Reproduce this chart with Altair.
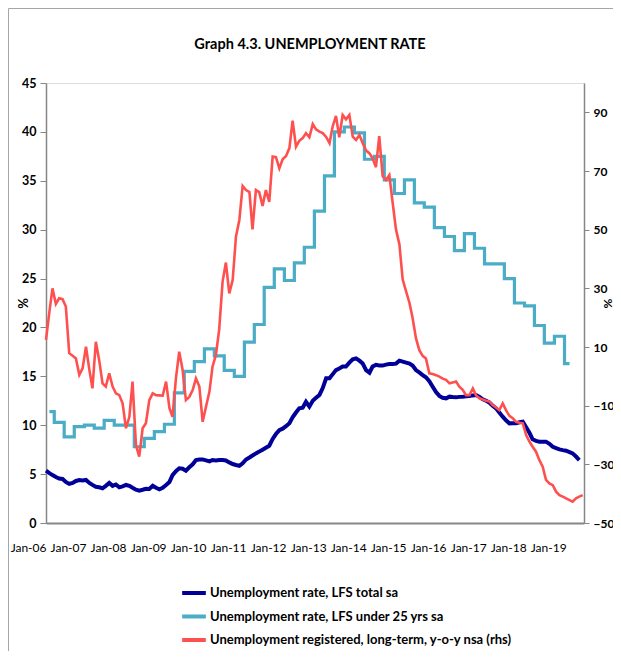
import altair as alt
import pandas as pd

FONT = "Lato"

series_names = [
    "Unemployment rate, LFS total sa",
    "Unemployment rate, LFS under 25 yrs sa",
    "Unemployment registered, long-term, y-o-y nsa (rhs)",
]
colors = ["#000099", "#4BACC6", "#FF5050"]
chart_title = "Graph 4.3. UNEMPLOYMENT RATE"

tick_years = list(range(2006, 2020))
left_ticks = [0, 5, 10, 15, 20, 25, 30, 35, 40, 45]
right_ticks = [-50, -30, -10, 10, 30, 50, 70, 90]

# monthly, Jan-06 .. May-19
lfs_total = [
    5.35, 5.1, 4.9, 4.7, 4.55, 4.5, 4.2, 4.0, 4.1, 4.3, 4.4, 4.35,
    4.4, 4.1, 3.9, 3.7, 3.65, 3.55, 3.8, 4.1, 3.8, 3.94, 3.65, 3.75,
    3.89, 3.8, 3.6, 3.4, 3.31, 3.4, 3.5, 3.48, 3.8, 3.6, 3.45, 3.6,
    3.89, 4.2, 4.9, 5.3, 5.59, 5.55, 5.35, 5.7, 6.0, 6.44, 6.5, 6.5,
    6.4, 6.3, 6.44, 6.4, 6.44, 6.44, 6.4, 6.2, 6.03, 5.93, 5.85, 6.1,
    6.5, 6.7, 6.9, 7.12, 7.3, 7.5, 7.7, 7.9, 8.6, 9.1, 9.5, 9.65,
    9.9, 10.2, 10.8, 11.3, 11.73, 11.8, 12.4, 11.9, 12.5, 12.8, 13.1, 13.8,
    14.8, 14.8, 15.2, 15.64, 15.8, 16.0, 16.0, 16.4, 16.74, 16.84, 16.6, 16.3,
    15.64, 15.37, 16.0, 16.17, 16.1, 16.1, 16.2, 16.26, 16.26, 16.3, 16.6, 16.5,
    16.4, 16.3, 16.1, 15.64, 15.4, 15.13, 14.9, 14.5, 13.94, 13.4, 13.0, 12.8,
    12.75, 12.92, 12.88, 12.85, 12.9, 12.92, 12.95, 12.99, 13.05, 13.09, 12.9, 12.65,
    12.5, 12.3, 12.0, 11.73, 11.3, 10.87, 10.5, 10.19, 10.2, 10.19, 10.3, 10.36,
    9.8, 9.2, 8.56, 8.4, 8.32, 8.32, 8.32, 8.1, 7.8, 7.65, 7.53, 7.45,
    7.39, 7.25, 7.12, 6.8, 6.44,
]

# quarterly, Q1-06 .. Q1-19
lfs_youth_q = [
    11.4, 10.3, 8.8, 9.85,
    10.0, 9.7, 10.5, 10.0,
    10.0, 7.8, 8.66, 9.34,
    10.1, 13.3, 15.5, 16.5,
    17.8, 17.1, 15.6, 15.0,
    18.5, 20.3, 24.1, 26.0,
    24.8, 26.6, 28.2, 31.9,
    35.5, 40.0, 40.5, 39.9,
    37.2, 37.5, 35.1, 33.7,
    35.1, 32.75, 32.3, 30.2,
    29.3, 27.85, 29.6, 28.1,
    26.5, 26.5, 25.0, 22.5,
    22.2, 20.2, 18.4, 19.1,
    16.3,
]

# monthly, Jan-06 .. Jun-19 (right axis)
registered_lt = [
    12.4, 22, 30, 24.7, 26.6, 26.3, 23.8, 7.9, 7.0, 6.1, 0.5, 2.7,
    10.1, 2.2, -4.1, 11.8, 5.6, -2.4, -3.5, 1, -3.5, -5.8, -6.4, -9.2,
    -17.7, -13.8, -1.8, -23.4, -27.4, -17.7, -16, -8.1, -5.8, -6.4, -6.5, -6.6,
    -1.8, -10.9, -13.8, -0.7, 8.4, 2.2, -8.1, -7, -4.7, -0.7, -3.5, -15.5,
    -10.3, -5.2, 3.3, 7.3, 16, 32.3, 38.8, 28.3, 32.8, 47.6, 53.3, 64.9,
    63.5, 62.8, 50.1, 63.5, 62.8, 58.1, 63.5, 59.5, 74.9, 74.7, 70.9, 74,
    75.1, 77.8, 87.2, 78.3, 80.3, 81.2, 82.9, 81.5, 86, 84.2, 83.4, 82.9,
    81.6, 79.5, 85.1, 88.8, 81.5, 89.1, 87.6, 89.1, 81.7, 80.6, 82.3, 79.5,
    77, 76, 74.3, 71.3, 81.9, 68.3, 66.9, 68.6, 59, 50, 45, 33,
    29, 25, 20, 13, 9, 7, 6.1, 1, 0.8, 0.4, -0.1, -0.8,
    -1.2, -2.4, -2.1, -1.8, -3.5, -4.6, -6.4, -6.4, -4.1, -6.5, -7.5, -7.9,
    -8.3, -8.6, -9.8, -10.6, -11.5, -9.2, -11.5, -13.5, -14.3, -15.5, -15.8, -16,
    -20, -22.3, -24, -25.7, -28.5, -30.8, -35.3, -36.5, -37.1, -39.3, -40.5, -41,
    -41.6, -42.2, -42.7, -41.6, -41, -40.5,
]


def dates(start, n, freq):
    return [d.strftime("%Y-%m-%d") for d in pd.date_range(start, periods=n, freq=freq)]


df_total = pd.DataFrame({"date": dates("2006-01-01", len(lfs_total), "MS"),
                         "value": lfs_total, "series": series_names[0]})
df_youth = pd.DataFrame({"date": dates("2006-02-01", len(lfs_youth_q), "3MS"),
                         "value": lfs_youth_q, "series": series_names[1]})
df_reg = pd.DataFrame({"date": dates("2006-01-01", len(registered_lt), "MS"),
                       "value": registered_lt, "series": series_names[2]})

W, H = 538, 440
PAD_L, PAD_T, PAD_R, PAD_B = 38, 75, 29, 128
FRAME_R = 29

x_enc = alt.X(
    "date:T",
    title=None,
    scale=alt.Scale(type="utc", domain=[
        alt.DateTime(year=2006, month=1, date=1, utc=True),
        alt.DateTime(year=2019, month=6, date=13, utc=True),
    ]),
    axis=alt.Axis(
        values=[alt.DateTime(year=y, month=1, date=1, utc=True) for y in tick_years],
        format="%b-%y", labelAlign="right", labelFlush=False, labelOverlap=False,
        ticks=False, tickSize=0, labelPadding=19, grid=False,
        domainColor="#868686", domainWidth=2,
        labelFont=FONT, labelFontSize=12, labelColor="#000000",
    ),
)

left_axis = alt.Axis(
    values=left_ticks, orient="left", title="%", grid=False,
    titleFont=FONT, titleFontSize=13, titleFontWeight="bold", titleColor="#000000",
    titleX=-23, titleBaseline="middle", titleAngle=-90,
    labelFont=FONT, labelFontSize=12.5, labelFontWeight="bold", labelColor="#000000",
    labelPadding=4, labelFlush=False, tickSize=6, tickColor="#868686",
    domainColor="#868686", domainWidth=1.5,
)
right_axis = alt.Axis(
    values=right_ticks, orient="right", title="%", grid=False,
    titleFont=FONT, titleFontSize=12, titleFontWeight="bold", titleColor="#000000",
    titleX=23, titleBaseline="middle", titleAngle=-90,
    labelFont=FONT, labelFontSize=12, labelFontWeight="bold", labelColor="#000000",
    labelPadding=4, labelFlush=False, tickSize=5, tickColor="#868686",
    domainColor="#868686", domainWidth=1.5,
)

color_enc = alt.Color(
    "series:N",
    scale=alt.Scale(domain=series_names, range=colors),
    legend=alt.Legend(
        title=None, orient="none", legendX=134, legendY=496, direction="vertical",
        symbolType="stroke", symbolSize=560, symbolStrokeWidth=4,
        labelFont=FONT, labelFontSize=13, labelFontWeight="bold", labelColor="#000000",
        labelLimit=0, labelOffset=2, rowPadding=1.5, padding=0,
    ),
)

left_y = alt.Y("value:Q", scale=alt.Scale(domain=[0, 45], nice=False, zero=False), axis=left_axis)
right_y = alt.Y("value:Q", scale=alt.Scale(domain=[-50, 100], nice=False, zero=False), axis=right_axis)

total_line = alt.Chart(df_total).mark_line(strokeWidth=4).encode(x=x_enc, y=left_y, color=color_enc)
youth_line = alt.Chart(df_youth).mark_line(strokeWidth=3.2, interpolate="step").encode(
    x=x_enc, y=left_y, color=color_enc)
reg_line = alt.Chart(df_reg).mark_line(strokeWidth=2.6).encode(x=x_enc, y=right_y, color=color_enc)

one_row = pd.DataFrame({"k": [0]})
frame_top = alt.Chart(one_row).mark_rule(color="#A6A6A6", strokeWidth=1).encode(
    x=alt.value(-PAD_L + 0.5), x2=alt.value(W + FRAME_R), y=alt.value(-PAD_T + 0.5))
frame_left = alt.Chart(one_row).mark_rule(color="#A6A6A6", strokeWidth=1).encode(
    x=alt.value(-PAD_L + 0.5), y=alt.value(-PAD_T + 0.5), y2=alt.value(H + PAD_B))
title_text = alt.Chart(one_row).mark_text(
    text=chart_title, font=FONT, fontSize=14.5, fontWeight="bold", color="#000000",
    align="center", baseline="middle",
).encode(x=alt.value(264), y=alt.value(-38))

left_layer = alt.layer(total_line, youth_line)

chart = alt.layer(left_layer, reg_line, frame_top, frame_left, title_text).resolve_scale(
    y="independent"
).properties(
    width=W, height=H,
    autosize=alt.AutoSizeParams(type="none"),
    padding={"left": PAD_L, "top": PAD_T, "right": PAD_R, "bottom": PAD_B},
).configure_view(stroke="#000000", strokeWidth=1).configure(background="white")

chart.save("out.html", embed_options={"renderer": "svg", "actions": False})
